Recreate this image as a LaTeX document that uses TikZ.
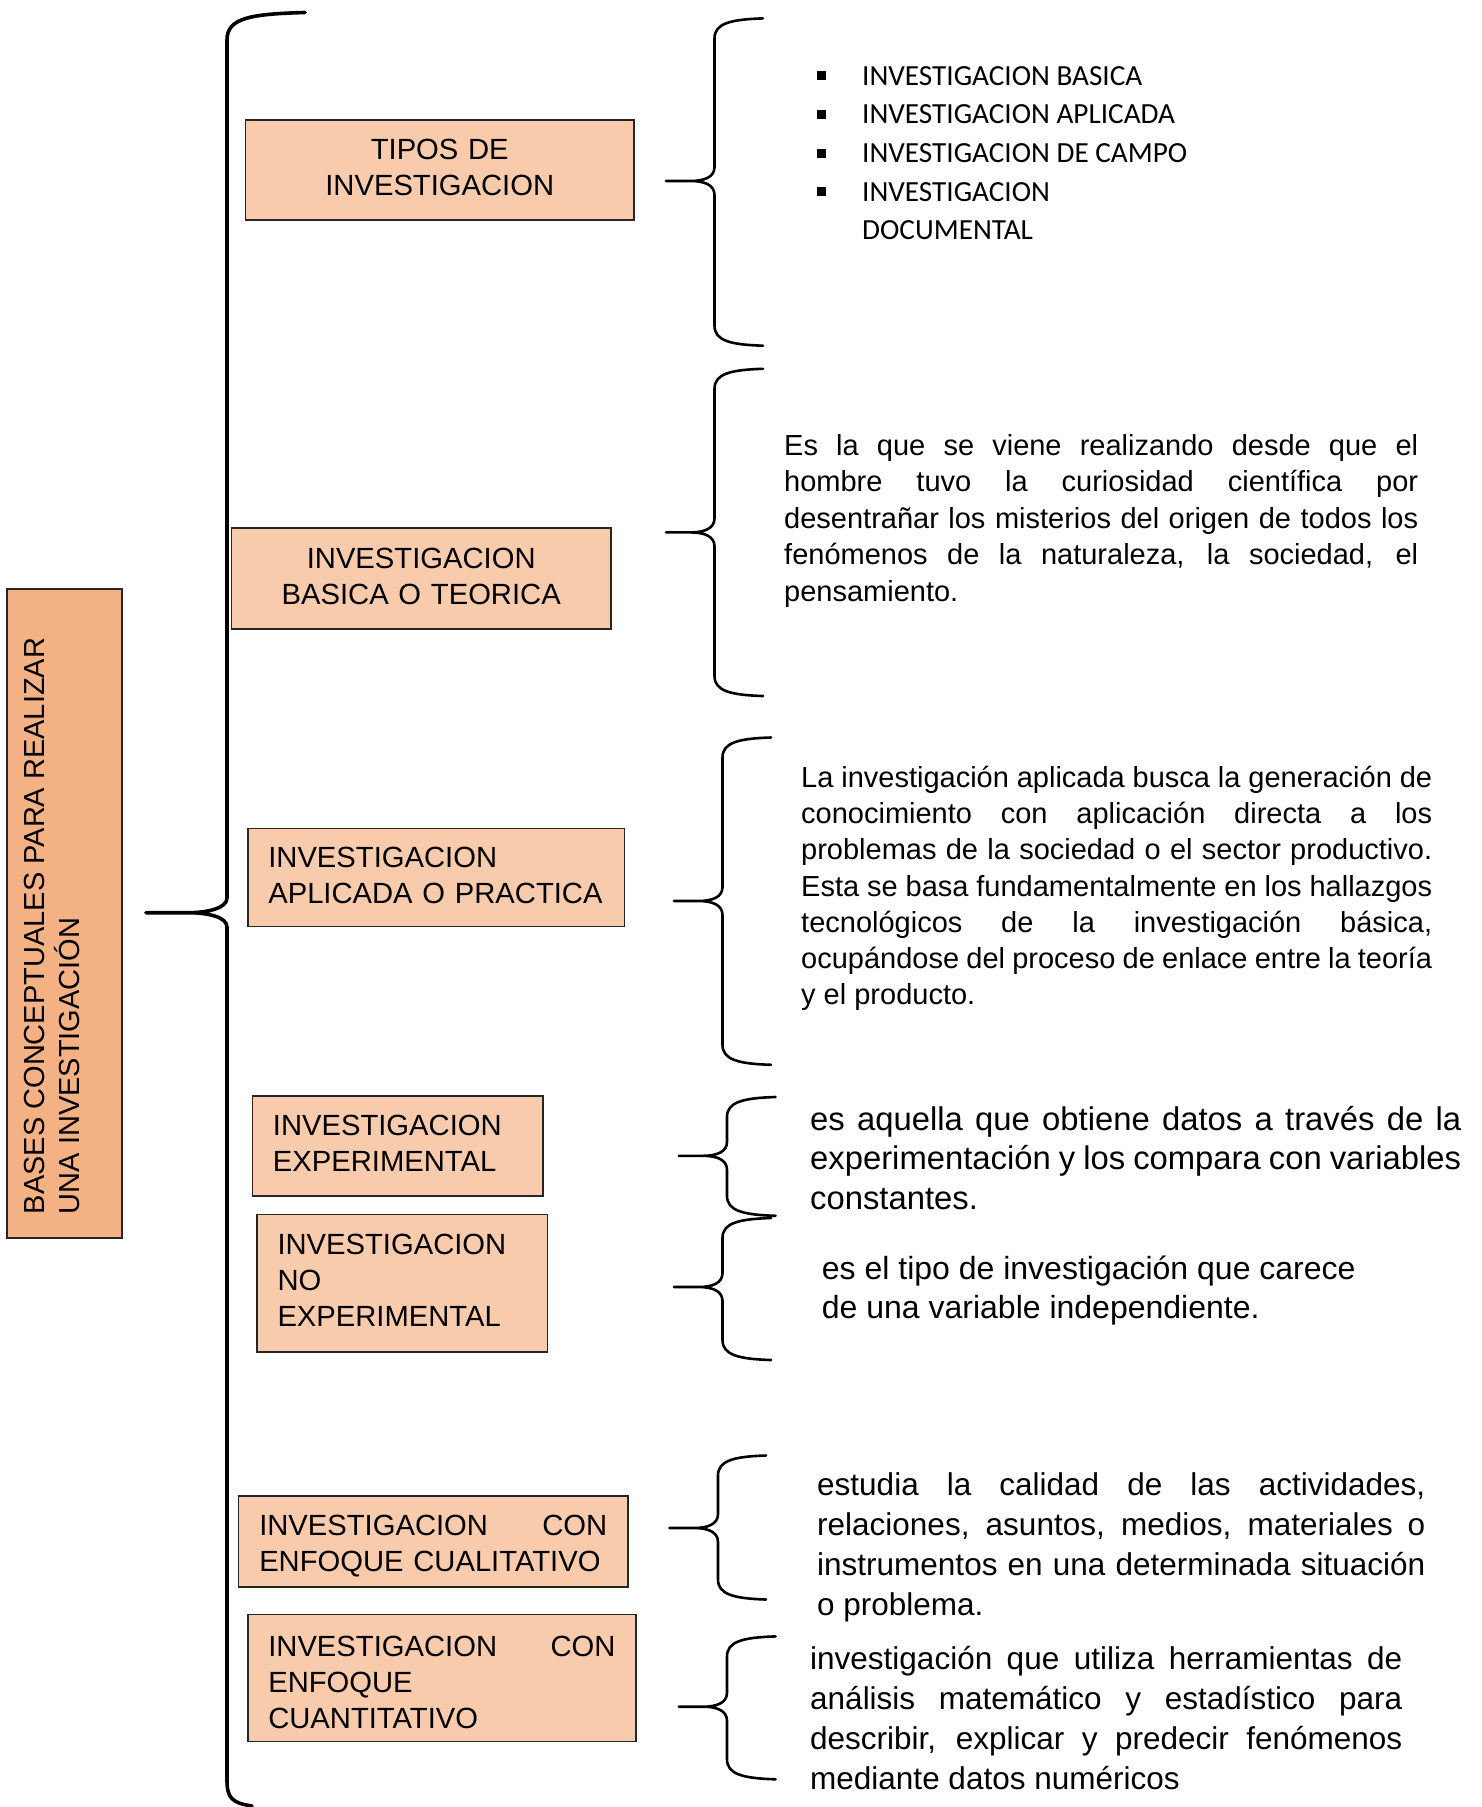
\documentclass[tikz,border=0pt]{standalone}
\usepackage{fontspec}
\setmainfont{Liberation Sans}
\newfontfamily\calib{Carlito}
\definecolor{boxfill}{HTML}{F8CBAD}
\definecolor{mainfill}{HTML}{F4B183}
\definecolor{edge}{HTML}{262626}
\newcommand\boxfont{\fontsize{29.2}{36}\selectfont}
\newcommand\lowstrut{\rule[-5pt]{0pt}{5pt}}
\newcommand\highstrut{\rule{0pt}{30pt}}
\newcommand\blt{\llap{\raisebox{4.8pt}{\rule{9pt}{9pt}}\hspace{36pt}}}
% #2 xv, #3 xtip, #4 xend, #5 ytop, #6 ytip, #7 ybot
\newcommand\mybrace[7][]{%
 \draw[brace,#1] (#4,#5) .. controls ({#2+16},{#5+1}) and (#2,{#5+5}) .. (#2,{#5+20})
 -- (#2,{#6-14}) .. controls (#2,{#6-4}) and ({#2-10},#6) .. ({#2-24},#6) -- (#3,#6)
 -- ({#2-24},#6) .. controls ({#2-10},#6) and (#2,{#6+4}) .. (#2,{#6+14})
 -- (#2,{#7-20}) .. controls (#2,{#7-5}) and ({#2+16},{#7-1}) .. (#4,#7);}
\tikzset{
 box/.style={draw=edge, line width=1.6pt, fill=boxfill, inner xsep=20.5pt, inner ysep=0pt, font=\boxfont},
 para/.style={anchor=north west, inner sep=0pt, align=justify},
 brace/.style={line width=2.6pt, line join=round, line cap=round}
}
\begin{document}
\begin{tikzpicture}[x=1pt,y=-1pt]
\useasboundingbox (0,0) rectangle (1482,1807);
\fill[white] (0,0) rectangle (1482,1807);

% left title box
\node[draw=edge, line width=1.8pt, fill=mainfill, minimum width=115pt, minimum height=649pt, inner sep=0pt] (base) at (64.5,913.5) {};
\node[rotate=90, align=left, inner sep=0pt, font=\fontsize{29}{34.5}\selectfont] (titulo) at (51.8,926) {BASES CONCEPTUALES PARA REALIZAR\\UNA INVESTIGACIÓN};

% big brace
\draw[line width=3.6pt, line join=round, line cap=round]
 (305,12.5) .. controls (250,14) and (227,18) .. (227,40)
 -- (227,898) .. controls (227,908) and (208,912.7) .. (188,912.7) -- (146,912.7)
 -- (188,912.7) .. controls (208,912.7) and (227,917) .. (227,927)
 -- (227,1780) .. controls (227,1798) and (232,1803) .. (252,1806);

% boxes
\node[box, minimum width=388.5pt, minimum height=100pt, text width=347.5pt, align=center] (tipos) at (439.75,170) {TIPOS DE\\INVESTIGACION\lowstrut};
\node[box, minimum width=379.2pt, minimum height=101.4pt, text width=338.2pt, align=center] (basica) at (421.2,578.5) {INVESTIGACION\\BASICA O TEORICA\lowstrut};
\node[box, minimum width=376.8pt, minimum height=97.9pt, text width=335.8pt, align=left] (aplicada) at (436.2,877.55) {INVESTIGACION\\APLICADA O PRACTICA\lowstrut};
\node[box, minimum width=290.4pt, minimum height=100pt, text width=249.4pt, align=left] (exper) at (397.6,1146) {INVESTIGACION\\EXPERIMENTAL\lowstrut};
\node[box, minimum width=290.4pt, minimum height=137.2pt, text width=249.4pt, align=left] (noexper) at (402.2,1283.2) {INVESTIGACION\\NO\\EXPERIMENTAL\lowstrut};
\node[box, inner xsep=20.8pt, minimum width=389.5pt, minimum height=91.1pt, text width=348pt, align=left] (cuali) at (433.25,1541.35) {\highstrut INVESTIGACION\hfill CON\\ENFOQUE CUALITATIVO};
\node[box, minimum width=388.2pt, minimum height=126.8pt, text width=347.2pt, align=left] (cuanti) at (441.9,1677.9) {\highstrut INVESTIGACION\hfill CON\\ENFOQUE\\CUANTITATIVO};

% small braces
\mybrace{714.5}{666}{763}{18.4}{181}{345.7}
\mybrace{714.5}{666}{763}{368.8}{532.4}{696}
\mybrace{722.5}{674}{771}{737.5}{901}{1064.8}
\mybrace{727}{678.8}{775.6}{1097}{1155.8}{1215.8}
\mybrace{722.5}{674}{771}{1218}{1287}{1360}
\mybrace{718}{669.5}{766}{1455.5}{1528}{1599.5}
\mybrace{727}{678.8}{775.6}{1636.4}{1706.7}{1779.3}

% bullet list
\node[anchor=north west, inner sep=0pt, align=left, font=\calib\fontsize{29.2}{38.6}\selectfont] (lista) at (862,58) {\strut\blt INVESTIGACION BASICA\\\blt INVESTIGACION APLICADA\\\blt INVESTIGACION DE CAMPO\\\blt INVESTIGACION\\DOCUMENTAL};

% paragraphs
\node[para, text width=634pt, font=\fontsize{29}{36.5}\selectfont] (p1) at (784,429.5) {\strut Es la que se viene realizando desde que el\linebreak hombre tuvo la curiosidad científica por\linebreak desentrañar los misterios del origen de todos los\linebreak fenómenos de la naturaleza, la sociedad, el\linebreak pensamiento.};
\node[para, text width=631pt, font=\fontsize{29}{36.3}\selectfont] (p2) at (801,761.5) {\strut La investigación aplicada busca la generación de\linebreak conocimiento con aplicación directa a los\linebreak problemas de la sociedad o el sector productivo.\linebreak Esta se basa fundamentalmente en los hallazgos\linebreak tecnológicos de la investigación básica,\linebreak ocupándose del proceso de enlace entre la teoría\linebreak y el producto.};
\node[para, text width=651pt, font=\fontsize{32.8}{39.5}\selectfont] (p3) at (810,1102.6) {\strut es aquella que obtiene datos a través de la\linebreak experimentación y los compara con variables\linebreak constantes.};
\node[anchor=north west, inner sep=0pt, align=left, font=\fontsize{32}{39}\selectfont] (p4) at (821.7,1251.5) {\strut es el tipo de investigación que carece\\de una variable independiente.};
\node[para, text width=608pt, font=\fontsize{31.5}{40}\selectfont] (p5) at (817,1467) {\strut estudia la calidad de las actividades,\linebreak relaciones, asuntos, medios, materiales o\linebreak instrumentos en una determinada situación\linebreak o problema.};
\node[para, text width=592pt, font=\fontsize{31.5}{40}\selectfont] (p6) at (810,1641) {\strut investigación que utiliza herramientas de\linebreak análisis matemático y estadístico para\linebreak describir, explicar y predecir fenómenos\linebreak mediante datos numéricos};
\end{tikzpicture}
\end{document}
